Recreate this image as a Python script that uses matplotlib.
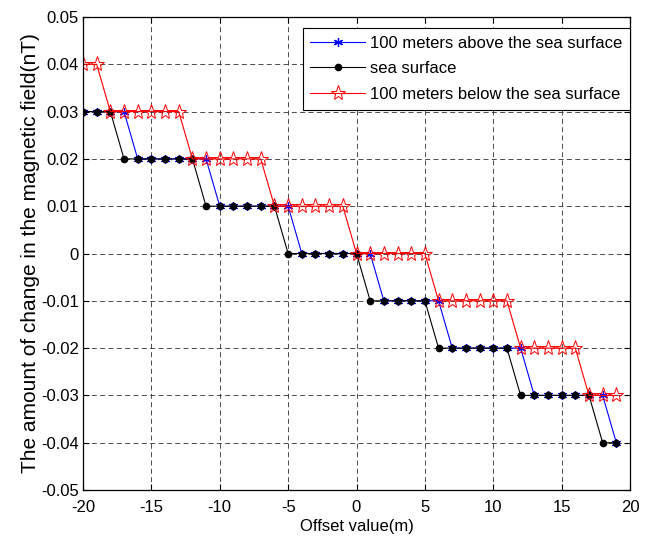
import numpy as np
import matplotlib
matplotlib.use("Agg")
import matplotlib.pyplot as plt
from matplotlib.ticker import FuncFormatter

plt.rcParams['font.family'] = ['Liberation Sans', 'DejaVu Sans']
plt.rcParams['axes.unicode_minus'] = False

# Offsets in metres
offset = list(range(-20, 20))

# Change in the magnetic field (nT) at each offset
above_surface = ([0.03] * 4 + [0.02] * 6 + [0.01] * 6 + [0.0] * 6 +
                 [-0.01] * 5 + [-0.02] * 6 + [-0.03] * 6 + [-0.04] * 1)
sea_surface = ([0.03] * 3 + [0.02] * 6 + [0.01] * 6 + [0.0] * 6 +
               [-0.01] * 5 + [-0.02] * 6 + [-0.03] * 6 + [-0.04] * 2)
below_surface = ([0.04] * 2 + [0.03] * 6 + [0.02] * 6 + [0.01] * 6 +
                 [0.0] * 6 + [-0.01] * 6 + [-0.02] * 5 + [-0.03] * 3)

series_labels = ["100 meters above the sea surface",
                 "sea surface",
                 "100 meters below the sea surface"]

FS = 12

fig = plt.figure(figsize=(6.6, 5.4), dpi=100)
ax = fig.add_axes([83 / 660, 1 - 490 / 540, (630 - 83) / 660, (490 - 17) / 540])

ax.plot(offset, above_surface, color='blue', lw=0.8, marker=(6, 2, 0),
        ms=6.5, mew=0.9, label=series_labels[0])
ax.plot(offset, sea_surface, color='black', lw=0.8, marker='o',
        ms=4.5, label=series_labels[1])
ax.plot(offset, below_surface, color='red', lw=0.8, marker='*',
        ms=11, mfc='none', mec='red', mew=0.7, label=series_labels[2])

ax.set_xlim(-20, 20)
ax.set_ylim(-0.05, 0.05)
ax.set_xticks(np.arange(-20, 21, 5))
ax.set_yticks(np.round(np.arange(-0.05, 0.0501, 0.01), 2))


def fmt(v, pos):
    v = round(v, 2)
    if v == 0:
        return "0"
    return f"{v:g}"


ax.yaxis.set_major_formatter(FuncFormatter(fmt))
ax.xaxis.set_major_formatter(FuncFormatter(fmt))

ax.tick_params(direction='in', length=4, width=0.8, labelsize=FS,
               top=True, right=True)
ax.tick_params(axis='x', pad=7)
ax.tick_params(axis='y', pad=3)
ax.grid(True, color='#303030', linestyle=(0, (6, 4)), linewidth=0.6)
for s in ax.spines.values():
    s.set_linewidth(0.9)

ax.set_xlabel("Offset value(m)", fontsize=FS, labelpad=3)
ax.set_ylabel("The amount of change in the magnetic field(nT)", fontsize=15,
              labelpad=1)

leg = ax.legend(loc='upper right', bbox_to_anchor=(630 / 660, 1 - 28 / 540),
                bbox_transform=fig.transFigure, fontsize=FS, fancybox=False,
                framealpha=1, edgecolor='black', numpoints=1,
                handlelength=3.3, borderaxespad=0, labelspacing=0.65,
                handletextpad=0.3, borderpad=0.45)
leg.get_frame().set_linewidth(0.8)

fig.savefig("out.png", dpi=100)
